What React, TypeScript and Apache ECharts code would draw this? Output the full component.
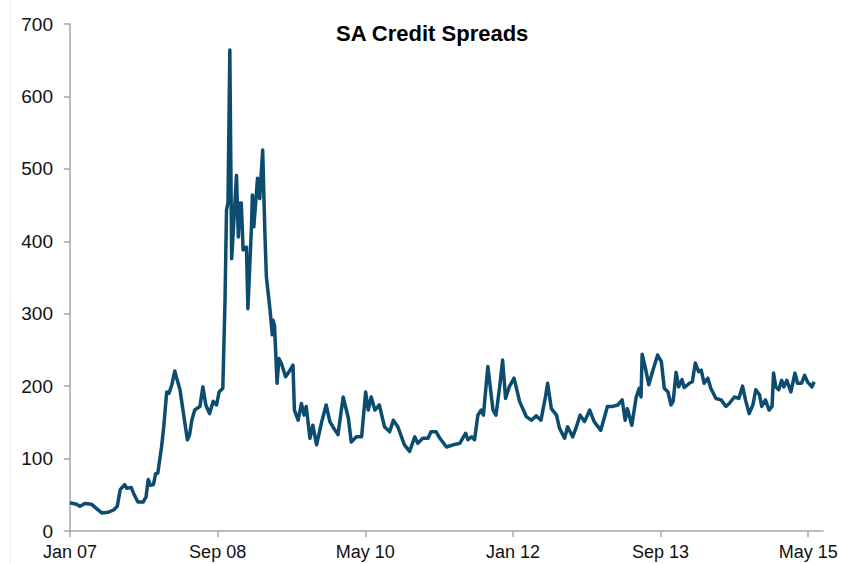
import React, { useEffect, useRef } from "react";
import * as echarts from "echarts";

const title = "SA Credit Spreads";
const xTickLabels = ["Jan 07", "Sep 08", "May 10", "Jan 12", "Sep 13", "May 15"];
const xTickMonths = [0, 20, 40, 60, 80, 100];
const yTicks = [0, 100, 200, 300, 400, 500, 600, 700];

// months since Jan 2007
const months = [
  0, 0.9, 1.35, 2.0, 2.9, 3.6, 4.3, 5.2, 5.9, 6.4, 6.8, 7.4, 7.7, 8.3, 8.7, 9.2, 9.9, 10.3, 10.6, 10.9,
  11.3, 11.6, 11.9, 12.4, 12.7, 13.1, 13.4, 13.8, 14.2, 14.4, 14.9, 15.3, 15.9, 16.2, 16.5, 16.9, 17.6, 18.0, 18.4, 18.9,
  19.4, 19.85, 20.2, 20.7, 21.0, 21.2, 21.4, 21.65, 21.9, 22.1, 22.55, 22.8, 23.0, 23.2, 23.45, 23.9, 24.1, 24.6, 24.7, 24.9,
  25.4, 25.7, 26.1, 26.4, 26.6, 27.1, 27.4, 27.5, 27.7, 28.05, 28.3, 28.65, 29.2, 29.8, 30.2, 30.4, 30.9, 31.35, 31.7, 32.0,
  32.5, 32.9, 33.4, 34.1, 34.7, 35.2, 35.6, 36.3, 37.0, 37.7, 38.1, 38.8, 39.5, 40.05, 40.4, 40.8, 41.3, 41.9, 42.6, 43.3,
  43.8, 44.4, 45.3, 46.0, 46.7, 47.1, 47.8, 48.5, 48.9, 49.6, 50.1, 51.0, 51.9, 52.8, 53.6, 53.9, 54.4, 54.8, 55.25, 55.7,
  56.0, 56.6, 57.3, 57.7, 58.2, 58.6, 59.0, 59.5, 60.15, 60.9, 61.8, 62.5, 63.15, 63.8, 64.4, 64.7, 65.2, 65.9, 66.3, 67.0,
  67.4, 68.1, 68.6, 69.1, 69.7, 70.4, 71.0, 71.9, 72.8, 73.5, 74.2, 74.8, 75.2, 75.5, 76.1, 76.7, 77.1, 77.35, 77.5, 77.9,
  78.4, 78.9, 79.6, 80.1, 80.5, 81.0, 81.4, 81.7, 82.1, 82.45, 82.9, 83.2, 83.9, 84.3, 84.7, 85.15, 85.5, 85.9, 86.4, 86.8,
  87.5, 88.2, 88.85, 89.3, 90.0, 90.6, 91.1, 91.5, 92.0, 92.5, 92.9, 93.4, 93.7, 94.2, 94.7, 95.1, 95.3, 95.6, 96.0, 96.4,
  96.7, 97.1, 97.65, 98.2, 98.55, 99.1, 99.5, 99.9, 100.5, 100.8,
];

const spreads = [
  39, 37, 34, 38, 37, 31, 25, 26, 29, 34, 57, 64, 59, 60, 50, 40, 40, 47, 71, 63,
  64, 79, 80, 116, 144, 192, 190, 202, 221, 213, 195, 167, 126, 133, 153, 167, 172, 199, 174, 162,
  179, 174, 192, 197, 319, 443, 453, 664, 376, 411, 491, 406, 453, 453, 388, 392, 307, 425, 464, 420,
  487, 459, 526, 411, 351, 305, 271, 291, 284, 204, 238, 231, 213, 222, 229, 167, 153, 176, 160, 172,
  128, 146, 119, 151, 174, 151, 144, 133, 185, 156, 123, 130, 130, 192, 167, 185, 167, 174, 144, 137,
  153, 144, 119, 110, 130, 121, 128, 128, 137, 137, 128, 116, 119, 121, 135, 126, 130, 126, 160, 167,
  160, 227, 167, 160, 199, 236, 183, 199, 211, 179, 158, 153, 159, 153, 185, 204, 169, 160, 142, 128,
  144, 130, 144, 160, 151, 167, 151, 139, 172, 172, 174, 181, 153, 169, 146, 185, 197, 185, 244, 227,
  202, 220, 243, 234, 197, 192, 174, 179, 219, 199, 209, 198, 204, 206, 232, 220, 222, 204, 211, 197,
  183, 181, 172, 176, 185, 183, 200, 181, 162, 174, 195, 188, 172, 181, 167, 172, 218, 199, 195, 208,
  199, 208, 192, 218, 204, 204, 215, 206, 199, 206,
];

export default function App() {
  const ref = useRef<HTMLDivElement>(null);

  useEffect(() => {
    if (!ref.current) return;
    const chart = echarts.init(ref.current, undefined, { renderer: "svg" });
    const data = months.map((m, i) => [m, spreads[i]]);
    const font = "Liberation Sans, Arial, sans-serif";
    chart.setOption({
      animation: false,
      backgroundColor: "#ffffff",
      title: {
        text: title,
        left: 331,
        top: 17,
        textStyle: { fontFamily: font, fontSize: 22, fontWeight: "bold", color: "#000" },
      },
      grid: { left: 70, right: 18, top: 24, bottom: 33, containLabel: false },
      xAxis: {
        type: "value",
        min: 0,
        max: 102,
        interval: 20,
        splitLine: { show: false },
        axisLine: { show: true, lineStyle: { color: "#a6a6a6", width: 1.5 } },
        axisTick: { show: true, length: 6, customValues: xTickMonths, lineStyle: { color: "#a6a6a6", width: 1.5 } },
        axisLabel: {
          customValues: xTickMonths,
          margin: 12,
          fontFamily: font,
          fontSize: 18,
          color: "#111",
          formatter: (v: number) => {
            const idx = xTickMonths.indexOf(Math.round(v));
            return idx >= 0 ? xTickLabels[idx] : "";
          },
        },
      },
      yAxis: {
        type: "value",
        min: yTicks[0],
        max: yTicks[yTicks.length - 1],
        interval: 100,
        splitLine: { show: false },
        axisLine: { show: true, lineStyle: { color: "#a6a6a6", width: 1.5 } },
        axisTick: { show: true, length: 6, lineStyle: { color: "#a6a6a6", width: 1.5 } },
        axisLabel: { margin: 17, fontFamily: font, fontSize: 19, color: "#111" },
      },
      graphic: [
        {
          type: "line",
          shape: { x1: 10.5, y1: 0, x2: 10.5, y2: 564 },
          style: { stroke: "#ececec", lineWidth: 1 },
        },
      ],
      series: [
        {
          type: "line",
          data,
          showSymbol: false,
          symbol: "none",
          lineStyle: { color: "#0b4c6f", width: 3.5, join: "round" },
        },
      ],
    });
    return () => chart.dispose();
  }, []);

  return (
    <div
      ref={ref}
      style={{ position: "fixed", left: 0, top: 0, width: 841, height: 564, background: "#fff" }}
    />
  );
}
